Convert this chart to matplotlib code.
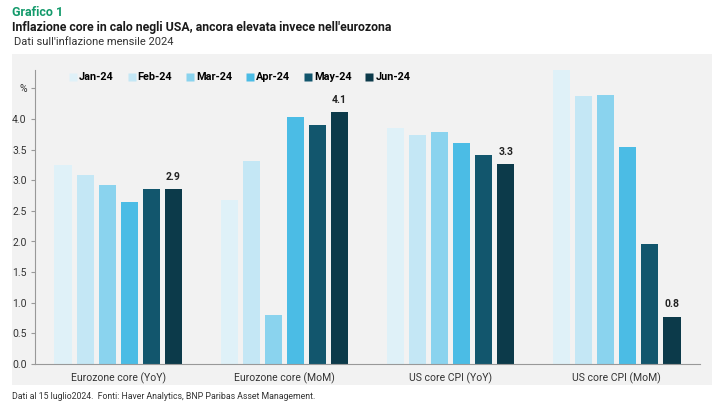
import numpy as np
import matplotlib
matplotlib.use('Agg')
import matplotlib.pyplot as plt
from matplotlib.patches import Rectangle
from matplotlib.lines import Line2D

plt.rcParams['font.family'] = ['Roboto', 'DejaVu Sans']

categories = ['Eurozone core (YoY)', 'Eurozone core (MoM)', 'US core CPI (YoY)', 'US core CPI (MoM)']
months = ['Jan-24', 'Feb-24', 'Mar-24', 'Apr-24', 'May-24', 'Jun-24']
jan = [3.25, 2.68, 3.85, 4.8]
feb = [3.09, 3.31, 3.74, 4.38]
mar = [2.93, 0.80, 3.79, 4.39]
apr = [2.64, 4.03, 3.60, 3.55]
may = [2.85, 3.91, 3.41, 1.96]
jun = [2.85, 4.11, 3.26, 0.77]
jun_labels = ['2.9', '4.1', '3.3', '0.8']
colors = ['#dff1f8', '#c4e7f5', '#8ad3ee', '#4bbce5', '#12566d', '#0c3a4a']

yticks = [0.0, 0.5, 1.0, 1.5, 2.0, 2.5, 3.0, 3.5, 4.0, 4.5]
ytick_labels = ['0.0', '0.5', '1.0', '1.5', '2.0', '2.5', '3.0', '3.5', '4.0', '%']

series = [jan, feb, mar, apr, may, jun]

fig = plt.figure(figsize=(7.25, 4.11), dpi=100)
fig.patches.append(Rectangle((12 / 725, 26 / 411), 700 / 725, 331 / 411,
                             transform=fig.transFigure, facecolor='#f2f2f2',
                             edgecolor='none', zorder=-10))

ax = fig.add_axes([35 / 725, 47 / 411, 665 / 725, 294 / 411])
ax.set_facecolor('none')

x = np.arange(len(categories))
step = 0.1325
width = 0.103
for i, vals in enumerate(series):
    ax.bar(x + (i - 2.5) * step, vals, width=width, color=colors[i], zorder=2)

for xi, v, lab in zip(x, jun, jun_labels):
    ax.text(xi + 2.5 * step, v + 0.12, lab, ha='center', va='bottom',
            fontsize=7.5, fontweight='bold', color='#222222')

ax.set_xlim(-0.5, 3.5)
ax.set_ylim(0, 4.8)
ax.set_xticks(x)
ax.set_xticklabels(categories, fontsize=7.5, color='#333333')
ax.tick_params(axis='x', length=0, pad=6)
ax.set_yticks(yticks)
ax.set_yticklabels(ytick_labels, fontsize=7.5, color='#333333')
ax.tick_params(axis='y', length=3, color='#999999', pad=3)
for s in ['top', 'right']:
    ax.spines[s].set_visible(False)
for s in ['left', 'bottom']:
    ax.spines[s].set_color('#999999')
    ax.spines[s].set_linewidth(0.8)

handles = [Line2D([], [], marker='s', linestyle='none', markersize=6,
                  markerfacecolor=c, markeredgecolor='none') for c in colors]
ax.legend(handles, months, loc='upper left', bbox_to_anchor=(0.036, 1.025),
          ncol=6, frameon=False, handletextpad=0.15,
          columnspacing=1.25, handlelength=0.8,
          prop={'weight': 'bold', 'size': 7.8})

fig.text(12 / 725, 1 - 12 / 411, 'Grafico 1', fontsize=9, fontweight='bold',
         color='#139a6b', va='center')
fig.text(12 / 725, 1 - 27 / 411,
         "Inflazione core in calo negli USA, ancora elevata invece nell'eurozona",
         fontsize=8.8, fontweight='bold', color='#1a1a1a', va='center')
fig.text(14 / 725, 1 - 42 / 411, "Dati sull'inflazione mensile 2024",
         fontsize=8, color='#333333', va='center')
fig.text(12 / 725, 1 - 396 / 411,
         'Dati al 15 luglio2024.  Fonti: Haver Analytics, BNP Paribas Asset Management.',
         fontsize=6.3, color='#333333', va='center')

fig.savefig('out.png', dpi=100)
